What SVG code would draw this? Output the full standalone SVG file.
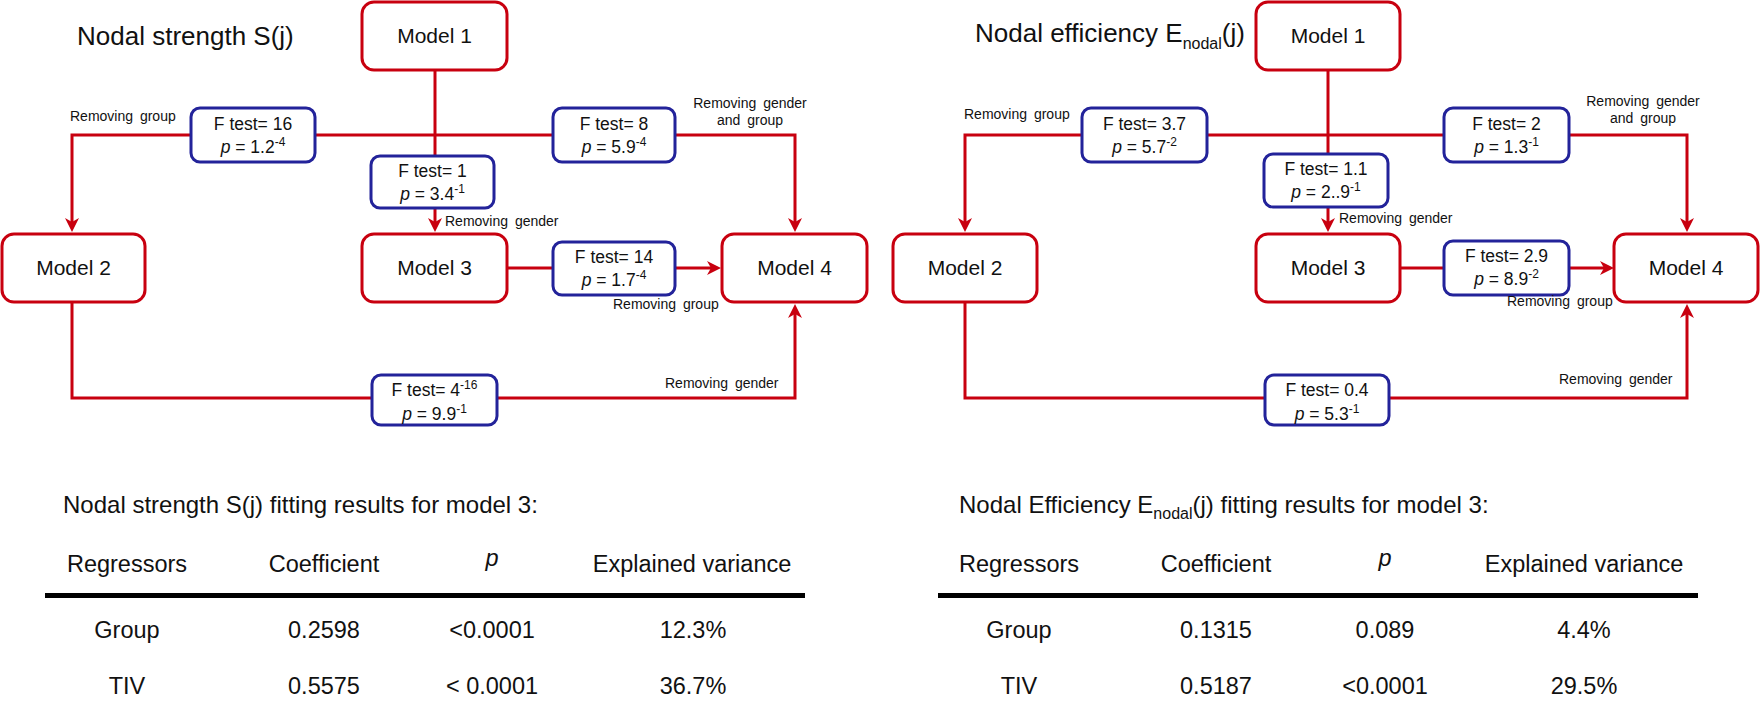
<svg xmlns="http://www.w3.org/2000/svg" width="1760" height="717" viewBox="0 0 1760 717">
<style>
text{font-family:"Liberation Sans",Arial,sans-serif;fill:#111}
.node rect{fill:#fff;stroke:#c8000f;stroke-width:3}
.node text{font-size:21px;text-anchor:middle}
.ft rect{fill:#fff;stroke:#23239a;stroke-width:3}
.ft text{font-size:17.5px;text-anchor:middle}
.sup{font-size:12px}
.it{font-style:italic}
.conn path{fill:none;stroke:#c8000f;stroke-width:3}
.lbl{font-size:14px;word-spacing:3px}
.title{font-size:26px}
.tt{font-size:24px}
.th{font-size:23.5px;text-anchor:middle}
.rule{fill:#000}
</style>
<defs>
<marker id="ah" viewBox="-15 -8 16 16" refX="-4" refY="0" markerWidth="16" markerHeight="16" markerUnits="userSpaceOnUse" orient="auto">
<path d="M0,0 L-14,-7 L-10,0 L-14,7 Z" fill="#c8000f"/>
</marker>
</defs>

<!-- Titles -->
<text class="title" x="77" y="45">Nodal strength S(j)</text>
<text class="title" x="975" y="42">Nodal efficiency E<tspan font-size="16" dy="7">nodal</tspan><tspan dy="-7">(j)</tspan></text>

<!-- Connectors -->
<g id="connectors" class="conn">
<path d="M435,70 V228" marker-end="url(#ah)"/>
<path d="M435,135 H72 V228" marker-end="url(#ah)"/>
<path d="M435,135 H795 V228" marker-end="url(#ah)"/>
<path d="M507,268 H717" marker-end="url(#ah)"/>
<path d="M72,302 V398 H795 V308" marker-end="url(#ah)"/>
<path d="M1328,70 V228" marker-end="url(#ah)"/>
<path d="M1328,135 H965 V228" marker-end="url(#ah)"/>
<path d="M1328,135 H1687 V228" marker-end="url(#ah)"/>
<path d="M1400,268 H1610" marker-end="url(#ah)"/>
<path d="M965,302 V398 H1687 V308" marker-end="url(#ah)"/>
</g>

<!-- Left diagram nodes -->
<g id="L-model1" class="node"><rect x="362" y="2" width="145" height="68" rx="12"/><text x="434.5" y="43">Model 1</text></g>
<g id="L-model2" class="node"><rect x="2" y="234" width="143" height="68" rx="12"/><text x="73.5" y="275">Model 2</text></g>
<g id="L-model3" class="node"><rect x="362" y="234" width="145" height="68" rx="12"/><text x="434.5" y="275">Model 3</text></g>
<g id="L-model4" class="node"><rect x="722" y="234" width="145" height="68" rx="12"/><text x="794.5" y="275">Model 4</text></g>

<g id="L-ft12" class="ft"><rect x="191" y="108" width="124" height="54" rx="9"/><text x="253" y="130">F test= 16</text><text x="253" y="153"><tspan class="it">p</tspan> = 1.2<tspan class="sup" dy="-7">-4</tspan></text></g>
<g id="L-ft14" class="ft"><rect x="553" y="108" width="122" height="54" rx="9"/><text x="614" y="130">F test= 8</text><text x="614" y="153"><tspan class="it">p</tspan> = 5.9<tspan class="sup" dy="-7">-4</tspan></text></g>
<g id="L-ft13" class="ft"><rect x="371" y="156" width="123" height="52" rx="9"/><text x="432.5" y="177">F test= 1</text><text x="432.5" y="200"><tspan class="it">p</tspan> = 3.4<tspan class="sup" dy="-7">-1</tspan></text></g>
<g id="L-ft34" class="ft"><rect x="553" y="242" width="122" height="53" rx="9"/><text x="614" y="263">F test= 14</text><text x="614" y="286"><tspan class="it">p</tspan> = 1.7<tspan class="sup" dy="-7">-4</tspan></text></g>
<g id="L-ft24" class="ft"><rect x="372" y="375" width="125" height="50" rx="9"/><text x="434.5" y="396">F test= 4<tspan class="sup" dy="-7">-16</tspan></text><text x="434.5" y="420"><tspan class="it">p</tspan> = 9.9<tspan class="sup" dy="-7">-1</tspan></text></g>

<g id="L-labels">
<text class="lbl" x="70" y="121">Removing group</text>
<text class="lbl" x="750" y="108" text-anchor="middle">Removing gender</text>
<text class="lbl" x="750" y="125" text-anchor="middle">and group</text>
<text class="lbl" x="445" y="226">Removing gender</text>
<text class="lbl" x="613" y="309">Removing group</text>
<text class="lbl" x="665" y="388">Removing gender</text>
</g>

<!-- Right diagram nodes -->
<g id="R-model1" class="node"><rect x="1256" y="2" width="144" height="68" rx="12"/><text x="1328" y="43">Model 1</text></g>
<g id="R-model2" class="node"><rect x="893" y="234" width="144" height="68" rx="12"/><text x="965" y="275">Model 2</text></g>
<g id="R-model3" class="node"><rect x="1256" y="234" width="144" height="68" rx="12"/><text x="1328" y="275">Model 3</text></g>
<g id="R-model4" class="node"><rect x="1614" y="234" width="144" height="68" rx="12"/><text x="1686" y="275">Model 4</text></g>

<g id="R-ft12" class="ft"><rect x="1082" y="108" width="125" height="54" rx="9"/><text x="1144.5" y="130">F test= 3.7</text><text x="1144.5" y="153"><tspan class="it">p</tspan> = 5.7<tspan class="sup" dy="-7">-2</tspan></text></g>
<g id="R-ft14" class="ft"><rect x="1444" y="108" width="125" height="54" rx="9"/><text x="1506.5" y="130">F test= 2</text><text x="1506.5" y="153"><tspan class="it">p</tspan> = 1.3<tspan class="sup" dy="-7">-1</tspan></text></g>
<g id="R-ft13" class="ft"><rect x="1264" y="154" width="124" height="53" rx="9"/><text x="1326" y="175">F test= 1.1</text><text x="1326" y="198"><tspan class="it">p</tspan> = 2..9<tspan class="sup" dy="-7">-1</tspan></text></g>
<g id="R-ft34" class="ft"><rect x="1444" y="241" width="125" height="54" rx="9"/><text x="1506.5" y="262">F test= 2.9</text><text x="1506.5" y="285"><tspan class="it">p</tspan> = 8.9<tspan class="sup" dy="-7">-2</tspan></text></g>
<g id="R-ft24" class="ft"><rect x="1265" y="375" width="124" height="50" rx="9"/><text x="1327" y="396">F test= 0.4</text><text x="1327" y="420"><tspan class="it">p</tspan> = 5.3<tspan class="sup" dy="-7">-1</tspan></text></g>

<g id="R-labels">
<text class="lbl" x="964" y="119">Removing group</text>
<text class="lbl" x="1643" y="106" text-anchor="middle">Removing gender</text>
<text class="lbl" x="1643" y="123" text-anchor="middle">and group</text>
<text class="lbl" x="1339" y="223">Removing gender</text>
<text class="lbl" x="1507" y="306">Removing group</text>
<text class="lbl" x="1559" y="384">Removing gender</text>
</g>

<!-- Left table -->
<g id="L-table">
<text class="tt" x="63" y="513">Nodal strength S(j) fitting results for model 3:</text>
<text class="th" x="127" y="572">Regressors</text>
<text class="th" x="324" y="572">Coefficient</text>
<text class="th it" x="492" y="566">p</text>
<text class="th" x="692" y="572">Explained variance</text>
<rect class="rule" x="45" y="593" width="760" height="5"/>
<text class="th" x="127" y="638">Group</text>
<text class="th" x="324" y="638">0.2598</text>
<text class="th" x="492" y="638">&lt;0.0001</text>
<text class="th" x="693" y="638">12.3%</text>
<text class="th" x="127" y="694">TIV</text>
<text class="th" x="324" y="694">0.5575</text>
<text class="th" x="492" y="694">&lt; 0.0001</text>
<text class="th" x="693" y="694">36.7%</text>
</g>

<!-- Right table -->
<g id="R-table">
<text class="tt" x="959" y="513">Nodal Efficiency E<tspan font-size="16" dy="6">nodal</tspan><tspan dy="-6">(j) fitting results for model 3:</tspan></text>
<text class="th" x="1019" y="572">Regressors</text>
<text class="th" x="1216" y="572">Coefficient</text>
<text class="th it" x="1385" y="566">p</text>
<text class="th" x="1584" y="572">Explained variance</text>
<rect class="rule" x="938" y="593" width="760" height="5"/>
<text class="th" x="1019" y="638">Group</text>
<text class="th" x="1216" y="638">0.1315</text>
<text class="th" x="1385" y="638">0.089</text>
<text class="th" x="1584" y="638">4.4%</text>
<text class="th" x="1019" y="694">TIV</text>
<text class="th" x="1216" y="694">0.5187</text>
<text class="th" x="1385" y="694">&lt;0.0001</text>
<text class="th" x="1584" y="694">29.5%</text>
</g>
</svg>
